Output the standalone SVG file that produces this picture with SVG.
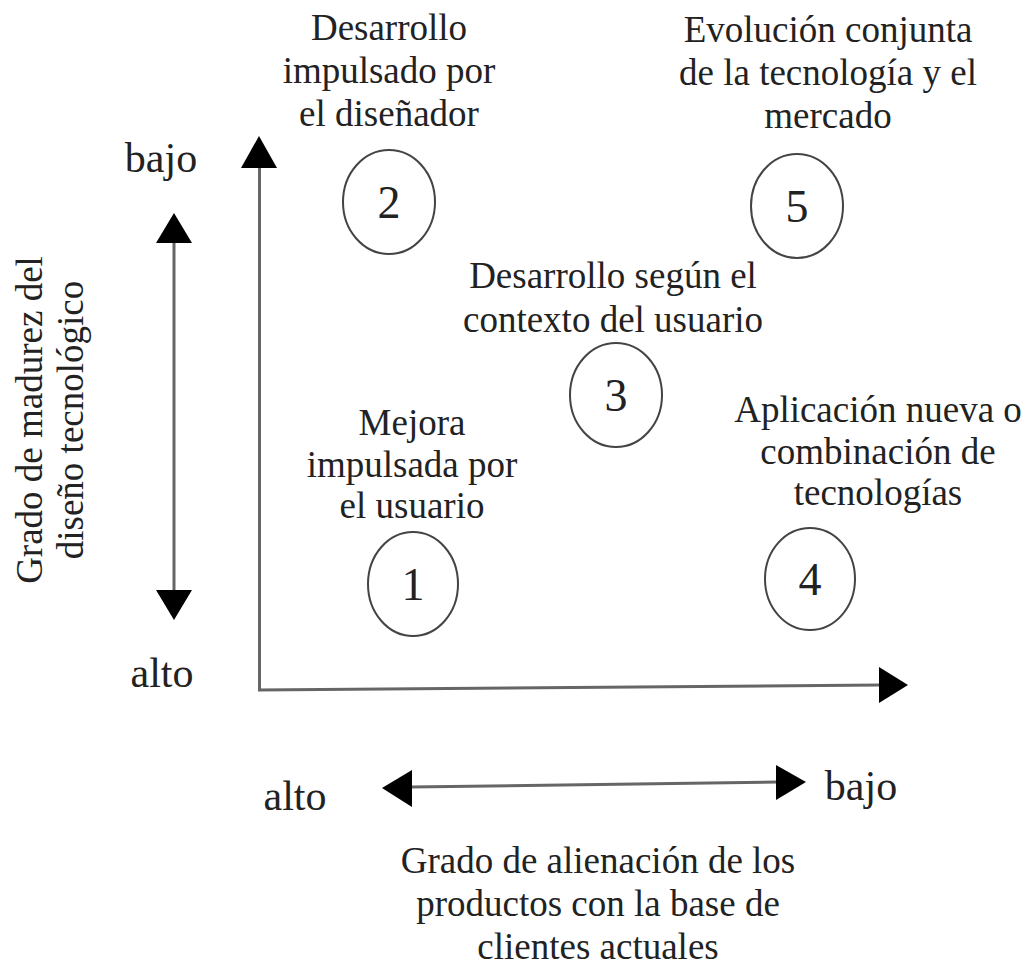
<svg xmlns="http://www.w3.org/2000/svg" width="1027" height="974" viewBox="0 0 1027 974">
<style>
text{font-family:"Liberation Serif","Times New Roman",serif;fill:#222;text-anchor:middle}
.lbl{font-size:37px}
.ax{font-size:42px}
.num{font-size:46px}
.ring{fill:none;stroke:#444;stroke-width:2}
.line{fill:none;stroke:#666;stroke-width:3}
.head{fill:#000}
</style>
<rect width="1027" height="974" fill="#fff"/>
<g id="connectors">
  <line class="line" x1="259.5" y1="166" x2="259.5" y2="691"/>
  <polygon class="head" points="259,136 241,168 277,168"/>
  <line class="line" x1="258" y1="690" x2="881" y2="685"/>
  <polygon class="head" points="908,685 879,667 879,703"/>
  <line class="line" x1="174" y1="242" x2="174" y2="591"/>
  <polygon class="head" points="174,213 156,243 192,243"/>
  <polygon class="head" points="174,620 156,590 192,590"/>
  <line class="line" x1="411" y1="787" x2="777" y2="782"/>
  <polygon class="head" points="382,788 412,770 412,807"/>
  <polygon class="head" points="806,782 776,765 776,800"/>
</g>
<g id="axis-labels">
  <text class="ax" x="161" y="172">bajo</text>
  <text class="ax" x="162" y="687">alto</text>
  <text class="ax" x="295" y="810">alto</text>
  <text class="ax" x="861" y="800">bajo</text>
  <text class="lbl" transform="translate(42,420) rotate(-90)"><tspan x="0" y="0">Grado de madurez del</tspan><tspan x="0" y="41">diseño tecnológico</tspan></text>
  <text class="lbl"><tspan x="598" y="873">Grado de alienación de los</tspan><tspan x="598" y="916">productos con la base de</tspan><tspan x="598" y="959">clientes actuales</tspan></text>
</g>
<g id="node-1">
  <text class="lbl"><tspan x="412" y="435">Mejora</tspan><tspan x="412" y="477">impulsada por</tspan><tspan x="412" y="518">el usuario</tspan></text>
  <ellipse class="ring" cx="413" cy="584" rx="45" ry="52"/>
  <text class="num" x="413" y="600">1</text>
</g>
<g id="node-2">
  <text class="lbl"><tspan x="389" y="40">Desarrollo</tspan><tspan x="389" y="83">impulsado por</tspan><tspan x="389" y="126">el diseñador</tspan></text>
  <ellipse class="ring" cx="389" cy="202" rx="46" ry="52"/>
  <text class="num" x="389" y="218">2</text>
</g>
<g id="node-3">
  <text class="lbl"><tspan x="613" y="288">Desarrollo según el</tspan><tspan x="613" y="332">contexto del usuario</tspan></text>
  <ellipse class="ring" cx="616" cy="395" rx="46" ry="52"/>
  <text class="num" x="616" y="411">3</text>
</g>
<g id="node-4">
  <text class="lbl"><tspan x="878" y="422">Aplicación nueva o</tspan><tspan x="878" y="464">combinación de</tspan><tspan x="878" y="505">tecnologías</tspan></text>
  <ellipse class="ring" cx="810" cy="579" rx="45" ry="51"/>
  <text class="num" x="810" y="595">4</text>
</g>
<g id="node-5">
  <text class="lbl"><tspan x="828" y="42">Evolución conjunta</tspan><tspan x="828" y="85">de la tecnología y el</tspan><tspan x="828" y="128">mercado</tspan></text>
  <ellipse class="ring" cx="797" cy="206" rx="46" ry="52"/>
  <text class="num" x="797" y="222">5</text>
</g>
</svg>
